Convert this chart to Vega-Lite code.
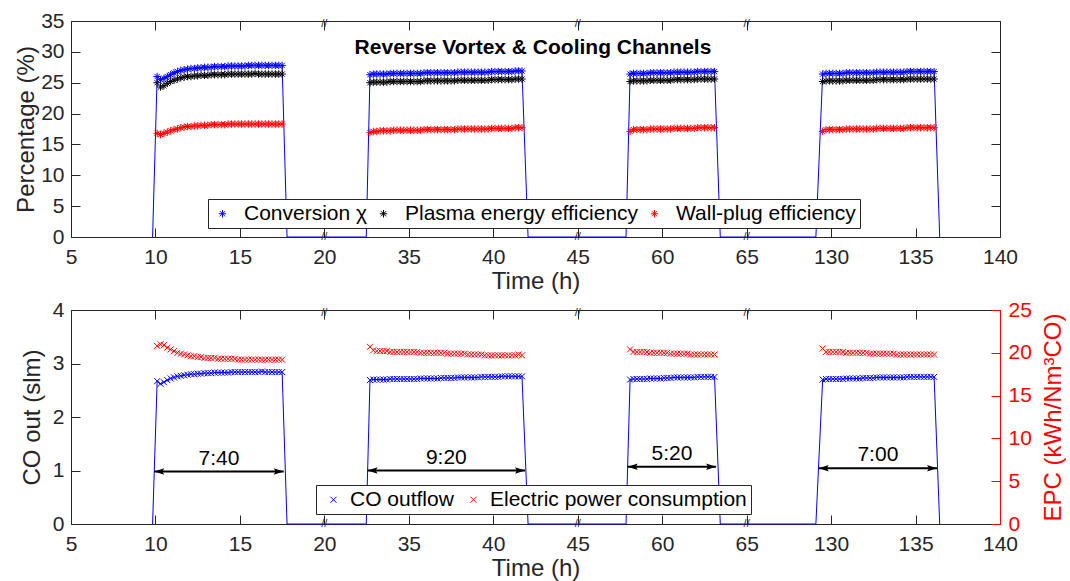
{
"$schema":"https://vega.github.io/schema/vega-lite/v6.json",
"background":"white",
"padding":{"left":14,"top":9,"right":0,"bottom":0},
"spacing":4,
"config":{
 "font":"Liberation Sans",
 "view":{"stroke":"#262626","strokeWidth":1},
 "axis":{"grid":false,"domain":false,"tickColor":"#262626","tickSize":-9,"tickWidth":1,"labelColor":"#262626","labelFontSize":21,"titleFontSize":24,"titleColor":"#262626","titleFontWeight":"normal","labelFont":"Liberation Sans","titleFont":"Liberation Sans","labelFlush":false,"labelOverlap":false}
},
"resolve":{"scale":{"color":"independent"},"legend":{"color":"independent"}},
"datasets":{
"d":[
{"t":9.83,"c":0,"co":0},{"t":17.79,"c":0,"co":0},{"t":32.48,"c":0,"co":0},{"t":42.06,"c":0,"co":0},{"t":57.86,"c":0,"co":0},{"t":63.44,"c":0,"co":0},{"t":129.1,"c":0,"co":0},{"t":136.43,"c":0,"co":0},
{"t":10.1,"c":26.0,"p":25.0,"w":16.8,"co":2.67,"e":20.8},
{"t":10.3,"c":25.5,"p":24.3,"w":16.6,"co":2.62,"e":21.0},
{"t":10.5,"c":25.7,"p":24.5,"w":16.8,"co":2.65,"e":20.9},
{"t":10.7,"c":26.0,"p":24.9,"w":17.0,"co":2.69,"e":20.6},
{"t":10.9,"c":26.3,"p":25.2,"w":17.2,"co":2.72,"e":20.4},
{"t":11.1,"c":26.6,"p":25.4,"w":17.4,"co":2.74,"e":20.2},
{"t":11.3,"c":26.8,"p":25.6,"w":17.5,"co":2.76,"e":20.0},
{"t":11.5,"c":27.0,"p":25.8,"w":17.7,"co":2.77,"e":19.9},
{"t":11.7,"c":27.1,"p":25.9,"w":17.8,"co":2.78,"e":19.8},
{"t":11.9,"c":27.2,"p":26.0,"w":17.9,"co":2.79,"e":19.7},
{"t":12.1,"c":27.3,"p":26.0,"w":17.9,"co":2.80,"e":19.6},
{"t":12.3,"c":27.3,"p":26.1,"w":18.0,"co":2.80,"e":19.6},
{"t":12.5,"c":27.4,"p":26.1,"w":18.0,"co":2.81,"e":19.5},
{"t":12.7,"c":27.4,"p":26.2,"w":18.1,"co":2.81,"e":19.5},
{"t":12.9,"c":27.5,"p":26.2,"w":18.1,"co":2.82,"e":19.4},
{"t":13.1,"c":27.5,"p":26.2,"w":18.1,"co":2.82,"e":19.4},
{"t":13.3,"c":27.5,"p":26.3,"w":18.2,"co":2.82,"e":19.4},
{"t":13.5,"c":27.6,"p":26.3,"w":18.2,"co":2.83,"e":19.4},
{"t":13.7,"c":27.6,"p":26.3,"w":18.2,"co":2.83,"e":19.3},
{"t":13.9,"c":27.6,"p":26.3,"w":18.2,"co":2.83,"e":19.3},
{"t":14.1,"c":27.6,"p":26.3,"w":18.2,"co":2.83,"e":19.3},
{"t":14.3,"c":27.7,"p":26.4,"w":18.3,"co":2.83,"e":19.3},
{"t":14.5,"c":27.7,"p":26.4,"w":18.3,"co":2.84,"e":19.3},
{"t":14.7,"c":27.7,"p":26.4,"w":18.3,"co":2.84,"e":19.3},
{"t":14.9,"c":27.7,"p":26.4,"w":18.3,"co":2.84,"e":19.2},
{"t":15.1,"c":27.7,"p":26.4,"w":18.3,"co":2.84,"e":19.2},
{"t":15.3,"c":27.7,"p":26.4,"w":18.3,"co":2.84,"e":19.2},
{"t":15.5,"c":27.8,"p":26.4,"w":18.3,"co":2.84,"e":19.2},
{"t":15.7,"c":27.8,"p":26.4,"w":18.3,"co":2.84,"e":19.2},
{"t":15.9,"c":27.8,"p":26.5,"w":18.3,"co":2.84,"e":19.2},
{"t":16.1,"c":27.8,"p":26.4,"w":18.3,"co":2.84,"e":19.2},
{"t":16.3,"c":27.8,"p":26.4,"w":18.3,"co":2.85,"e":19.2},
{"t":16.5,"c":27.8,"p":26.4,"w":18.3,"co":2.84,"e":19.2},
{"t":16.7,"c":27.8,"p":26.4,"w":18.3,"co":2.84,"e":19.2},
{"t":16.9,"c":27.8,"p":26.4,"w":18.3,"co":2.84,"e":19.2},
{"t":17.1,"c":27.8,"p":26.4,"w":18.3,"co":2.84,"e":19.2},
{"t":17.3,"c":27.8,"p":26.4,"w":18.3,"co":2.84,"e":19.2},
{"t":17.5,"c":27.8,"p":26.4,"w":18.3,"co":2.84,"e":19.2},
{"t":32.7,"c":26.3,"p":25.0,"w":16.9,"co":2.69,"e":20.7},
{"t":32.9,"c":26.4,"p":25.1,"w":17.1,"co":2.70,"e":20.3},
{"t":33.1,"c":26.4,"p":25.1,"w":17.1,"co":2.70,"e":20.2},
{"t":33.3,"c":26.4,"p":25.1,"w":17.2,"co":2.70,"e":20.2},
{"t":33.5,"c":26.4,"p":25.1,"w":17.2,"co":2.70,"e":20.2},
{"t":33.7,"c":26.4,"p":25.1,"w":17.2,"co":2.70,"e":20.2},
{"t":33.9,"c":26.5,"p":25.2,"w":17.2,"co":2.71,"e":20.1},
{"t":34.1,"c":26.5,"p":25.2,"w":17.3,"co":2.71,"e":20.1},
{"t":34.3,"c":26.5,"p":25.2,"w":17.3,"co":2.71,"e":20.1},
{"t":34.5,"c":26.5,"p":25.2,"w":17.3,"co":2.71,"e":20.1},
{"t":34.7,"c":26.5,"p":25.2,"w":17.3,"co":2.71,"e":20.1},
{"t":34.9,"c":26.5,"p":25.2,"w":17.3,"co":2.71,"e":20.1},
{"t":35.1,"c":26.5,"p":25.2,"w":17.3,"co":2.71,"e":20.1},
{"t":35.3,"c":26.5,"p":25.2,"w":17.3,"co":2.71,"e":20.1},
{"t":35.5,"c":26.5,"p":25.2,"w":17.3,"co":2.71,"e":20.1},
{"t":35.7,"c":26.5,"p":25.2,"w":17.3,"co":2.72,"e":20.0},
{"t":35.9,"c":26.6,"p":25.3,"w":17.4,"co":2.72,"e":20.0},
{"t":36.1,"c":26.6,"p":25.3,"w":17.4,"co":2.72,"e":20.0},
{"t":36.3,"c":26.6,"p":25.3,"w":17.4,"co":2.72,"e":20.0},
{"t":36.5,"c":26.6,"p":25.3,"w":17.4,"co":2.72,"e":20.0},
{"t":36.7,"c":26.6,"p":25.3,"w":17.4,"co":2.72,"e":20.0},
{"t":36.9,"c":26.6,"p":25.3,"w":17.4,"co":2.73,"e":20.0},
{"t":37.1,"c":26.6,"p":25.3,"w":17.4,"co":2.73,"e":20.0},
{"t":37.3,"c":26.6,"p":25.3,"w":17.4,"co":2.73,"e":19.9},
{"t":37.5,"c":26.6,"p":25.3,"w":17.4,"co":2.73,"e":19.9},
{"t":37.7,"c":26.6,"p":25.3,"w":17.4,"co":2.73,"e":19.9},
{"t":37.9,"c":26.7,"p":25.4,"w":17.5,"co":2.74,"e":19.9},
{"t":38.1,"c":26.7,"p":25.4,"w":17.5,"co":2.74,"e":19.9},
{"t":38.3,"c":26.7,"p":25.4,"w":17.5,"co":2.74,"e":19.9},
{"t":38.5,"c":26.7,"p":25.4,"w":17.5,"co":2.74,"e":19.8},
{"t":38.7,"c":26.7,"p":25.4,"w":17.5,"co":2.74,"e":19.8},
{"t":38.9,"c":26.7,"p":25.4,"w":17.5,"co":2.74,"e":19.8},
{"t":39.1,"c":26.7,"p":25.4,"w":17.5,"co":2.74,"e":19.8},
{"t":39.3,"c":26.7,"p":25.4,"w":17.5,"co":2.75,"e":19.8},
{"t":39.5,"c":26.7,"p":25.4,"w":17.5,"co":2.75,"e":19.7},
{"t":39.7,"c":26.7,"p":25.4,"w":17.5,"co":2.75,"e":19.7},
{"t":39.9,"c":26.8,"p":25.5,"w":17.6,"co":2.75,"e":19.7},
{"t":40.1,"c":26.8,"p":25.5,"w":17.6,"co":2.75,"e":19.7},
{"t":40.3,"c":26.8,"p":25.5,"w":17.6,"co":2.75,"e":19.7},
{"t":40.5,"c":26.8,"p":25.5,"w":17.6,"co":2.76,"e":19.7},
{"t":40.7,"c":26.8,"p":25.5,"w":17.6,"co":2.76,"e":19.7},
{"t":40.9,"c":26.8,"p":25.5,"w":17.6,"co":2.76,"e":19.7},
{"t":41.1,"c":26.8,"p":25.5,"w":17.6,"co":2.76,"e":19.7},
{"t":41.3,"c":26.9,"p":25.6,"w":17.7,"co":2.76,"e":19.7},
{"t":41.5,"c":26.9,"p":25.6,"w":17.7,"co":2.76,"e":19.8},
{"t":41.7,"c":26.9,"p":25.6,"w":17.7,"co":2.76,"e":19.7},
{"t":58.1,"c":26.4,"p":25.2,"w":17.1,"co":2.70,"e":20.4},
{"t":58.3,"c":26.5,"p":25.3,"w":17.4,"co":2.71,"e":20.1},
{"t":58.5,"c":26.5,"p":25.3,"w":17.4,"co":2.71,"e":20.1},
{"t":58.7,"c":26.5,"p":25.3,"w":17.4,"co":2.71,"e":20.1},
{"t":58.9,"c":26.5,"p":25.3,"w":17.4,"co":2.71,"e":20.1},
{"t":59.1,"c":26.5,"p":25.3,"w":17.4,"co":2.71,"e":20.1},
{"t":59.3,"c":26.6,"p":25.4,"w":17.5,"co":2.72,"e":20.0},
{"t":59.5,"c":26.6,"p":25.4,"w":17.5,"co":2.72,"e":20.0},
{"t":59.7,"c":26.6,"p":25.4,"w":17.5,"co":2.72,"e":20.0},
{"t":59.9,"c":26.6,"p":25.4,"w":17.5,"co":2.72,"e":20.0},
{"t":60.1,"c":26.6,"p":25.4,"w":17.5,"co":2.73,"e":20.0},
{"t":60.3,"c":26.6,"p":25.4,"w":17.5,"co":2.73,"e":20.0},
{"t":60.5,"c":26.6,"p":25.4,"w":17.5,"co":2.73,"e":19.9},
{"t":60.7,"c":26.7,"p":25.5,"w":17.6,"co":2.74,"e":19.9},
{"t":60.9,"c":26.7,"p":25.5,"w":17.6,"co":2.74,"e":19.9},
{"t":61.1,"c":26.7,"p":25.5,"w":17.6,"co":2.74,"e":19.9},
{"t":61.3,"c":26.7,"p":25.5,"w":17.6,"co":2.74,"e":19.9},
{"t":61.5,"c":26.7,"p":25.5,"w":17.6,"co":2.74,"e":19.9},
{"t":61.7,"c":26.7,"p":25.5,"w":17.6,"co":2.74,"e":19.8},
{"t":61.9,"c":26.7,"p":25.5,"w":17.6,"co":2.74,"e":19.8},
{"t":62.1,"c":26.8,"p":25.6,"w":17.7,"co":2.75,"e":19.8},
{"t":62.3,"c":26.8,"p":25.6,"w":17.7,"co":2.75,"e":19.8},
{"t":62.5,"c":26.8,"p":25.6,"w":17.7,"co":2.75,"e":19.8},
{"t":62.7,"c":26.8,"p":25.6,"w":17.7,"co":2.75,"e":19.8},
{"t":62.9,"c":26.8,"p":25.6,"w":17.7,"co":2.75,"e":19.8},
{"t":63.1,"c":26.8,"p":25.6,"w":17.7,"co":2.75,"e":19.8},
{"t":129.5,"c":26.4,"p":25.2,"w":17.1,"co":2.70,"e":20.5},
{"t":129.7,"c":26.5,"p":25.3,"w":17.4,"co":2.71,"e":20.1},
{"t":129.9,"c":26.5,"p":25.3,"w":17.4,"co":2.71,"e":20.1},
{"t":130.1,"c":26.5,"p":25.3,"w":17.4,"co":2.71,"e":20.1},
{"t":130.3,"c":26.5,"p":25.3,"w":17.4,"co":2.71,"e":20.1},
{"t":130.5,"c":26.5,"p":25.3,"w":17.4,"co":2.71,"e":20.1},
{"t":130.7,"c":26.5,"p":25.3,"w":17.4,"co":2.71,"e":20.1},
{"t":130.9,"c":26.6,"p":25.4,"w":17.5,"co":2.72,"e":20.0},
{"t":131.1,"c":26.6,"p":25.4,"w":17.5,"co":2.72,"e":20.0},
{"t":131.3,"c":26.6,"p":25.4,"w":17.5,"co":2.72,"e":20.0},
{"t":131.5,"c":26.6,"p":25.4,"w":17.5,"co":2.72,"e":20.0},
{"t":131.7,"c":26.6,"p":25.4,"w":17.5,"co":2.72,"e":20.0},
{"t":131.9,"c":26.6,"p":25.4,"w":17.5,"co":2.73,"e":20.0},
{"t":132.1,"c":26.6,"p":25.4,"w":17.5,"co":2.73,"e":20.0},
{"t":132.3,"c":26.6,"p":25.4,"w":17.5,"co":2.73,"e":19.9},
{"t":132.5,"c":26.6,"p":25.4,"w":17.5,"co":2.73,"e":19.9},
{"t":132.7,"c":26.7,"p":25.5,"w":17.6,"co":2.74,"e":19.9},
{"t":132.9,"c":26.7,"p":25.5,"w":17.6,"co":2.74,"e":19.9},
{"t":133.1,"c":26.7,"p":25.5,"w":17.6,"co":2.74,"e":19.9},
{"t":133.3,"c":26.7,"p":25.5,"w":17.6,"co":2.74,"e":19.9},
{"t":133.5,"c":26.7,"p":25.5,"w":17.6,"co":2.74,"e":19.9},
{"t":133.7,"c":26.7,"p":25.5,"w":17.6,"co":2.74,"e":19.9},
{"t":133.9,"c":26.7,"p":25.5,"w":17.6,"co":2.74,"e":19.8},
{"t":134.1,"c":26.7,"p":25.5,"w":17.6,"co":2.74,"e":19.8},
{"t":134.3,"c":26.7,"p":25.5,"w":17.6,"co":2.74,"e":19.8},
{"t":134.5,"c":26.8,"p":25.6,"w":17.7,"co":2.75,"e":19.8},
{"t":134.7,"c":26.8,"p":25.6,"w":17.7,"co":2.75,"e":19.8},
{"t":134.9,"c":26.8,"p":25.6,"w":17.7,"co":2.75,"e":19.8},
{"t":135.1,"c":26.8,"p":25.6,"w":17.7,"co":2.75,"e":19.8},
{"t":135.3,"c":26.8,"p":25.6,"w":17.7,"co":2.75,"e":19.8},
{"t":135.5,"c":26.8,"p":25.6,"w":17.7,"co":2.75,"e":19.8},
{"t":135.7,"c":26.8,"p":25.6,"w":17.7,"co":2.75,"e":19.8},
{"t":135.9,"c":26.8,"p":25.6,"w":17.7,"co":2.75,"e":19.8},
{"t":136.1,"c":26.8,"p":25.6,"w":17.7,"co":2.75,"e":19.8}
],
"arrows":[
{"t1":9.93,"t2":17.59,"ya":0.98,"lab":"7:40"},
{"t1":32.56,"t2":41.88,"ya":1.0,"lab":"9:20"},
{"t1":57.96,"t2":63.19,"ya":1.07,"lab":"5:20"},
{"t1":129.27,"t2":136.27,"ya":1.04,"lab":"7:00"}
],
"breaks":[{"t":20},{"t":45},{"t":65}]
},
"vconcat":[
{
 "width":929,"height":216,
 "resolve":{"axis":{"x":"independent","y":"independent"}},
 "layer":[
  {"data":{"name":"d"},"transform":[{"calculate":"datum.t <= 25 ? datum.t : datum.t <= 50 ? datum.t - 10 : datum.t <= 100 ? datum.t - 20 : datum.t - 80","as":"u"}],
   "mark":{"type":"line","color":"#0000ff","strokeWidth":1},
   "encoding":{
    "x":{"field":"u","type":"quantitative","scale":{"domain":[5,60],"nice":false,"zero":false},
         "axis":{"orient":"bottom","values":[5,10,15,20,25,30,35,40,45,50,55,60],"labelExpr":"['5','10','15','20','35','40','45','60','65','130','135','140'][round((datum.value-5)/5)]","labelPadding":18,"title":"Time (h)","titlePadding":2}},
    "y":{"field":"c","type":"quantitative","scale":{"domain":[0,35],"nice":false},
         "axis":{"orient":"left","values":[0,5,10,15,20,25,30,35],"labelPadding":16,"title":"Percentage (%)","titlePadding":2}}}},
  {"data":{"name":"d"},"transform":[{"filter":"isValid(datum.p)"},{"calculate":"datum.t <= 25 ? datum.t : datum.t <= 50 ? datum.t - 10 : datum.t <= 100 ? datum.t - 20 : datum.t - 80","as":"u"}],
   "mark":{"type":"point","shape":"M-1,0L1,0M0,-1L0,1M-0.7,-0.7L0.7,0.7M-0.7,0.7L0.7,-0.7","filled":false,"size":56,"strokeWidth":1,"opacity":1},
   "encoding":{
    "x":{"field":"u","type":"quantitative","axis":{"orient":"top","values":[5,10,15,20,25,30,35,40,45,50,55,60],"labels":false,"title":null}},
    "y":{"field":"w","type":"quantitative","axis":{"orient":"right","values":[0,5,10,15,20,25,30,35],"labels":false,"title":null}},
    "color":{"datum":"Wall-plug efficiency","type":"nominal",
      "scale":{"domain":["Conversion χ","Plasma energy efficiency","Wall-plug efficiency"],"range":["#0000ff","#000000","#ff0000"]},
      "legend":{"orient":"none","legendX":137,"legendY":178,"direction":"horizontal","title":null,"strokeColor":"#262626","fillColor":"#ffffff","padding":4,"labelFontSize":21,"labelFont":"Liberation Sans","labelColor":"#000000","labelLimit":400,"symbolType":"M-1,0L1,0M0,-1L0,1M-0.7,-0.7L0.7,0.7M-0.7,0.7L0.7,-0.7","symbolSize":56,"symbolStrokeWidth":1,"symbolOffset":0,"labelOffset":11,"columnPadding":5}}}},
  {"data":{"name":"d"},"transform":[{"filter":"isValid(datum.p)"},{"calculate":"datum.t <= 25 ? datum.t : datum.t <= 50 ? datum.t - 10 : datum.t <= 100 ? datum.t - 20 : datum.t - 80","as":"u"}],
   "mark":{"type":"point","shape":"M-1,0L1,0M0,-1L0,1M-0.7,-0.7L0.7,0.7M-0.7,0.7L0.7,-0.7","filled":false,"size":56,"strokeWidth":1,"opacity":1},
   "encoding":{
    "x":{"field":"u","type":"quantitative","axis":null},
    "y":{"field":"p","type":"quantitative","axis":null},
    "color":{"datum":"Plasma energy efficiency","type":"nominal"}}},
  {"data":{"name":"d"},"transform":[{"filter":"isValid(datum.p)"},{"calculate":"datum.t <= 25 ? datum.t : datum.t <= 50 ? datum.t - 10 : datum.t <= 100 ? datum.t - 20 : datum.t - 80","as":"u"}],
   "mark":{"type":"point","shape":"M-1,0L1,0M0,-1L0,1M-0.7,-0.7L0.7,0.7M-0.7,0.7L0.7,-0.7","filled":false,"size":56,"strokeWidth":1,"opacity":1},
   "encoding":{
    "x":{"field":"u","type":"quantitative","axis":null},
    "y":{"field":"c","type":"quantitative","axis":null},
    "color":{"datum":"Conversion χ","type":"nominal"}}},
  {"data":{"name":"breaks"},"transform":[{"calculate":"datum.t <= 25 ? datum.t : datum.t <= 50 ? datum.t - 10 : datum.t <= 100 ? datum.t - 20 : datum.t - 80","as":"u"}],
   "mark":{"type":"text","text":"//","fontSize":11,"color":"#262626","baseline":"middle","align":"center"},
   "encoding":{"x":{"field":"u","type":"quantitative","axis":null},"y":{"datum":0,"type":"quantitative","axis":null}}},
  {"data":{"name":"breaks"},"transform":[{"calculate":"datum.t <= 25 ? datum.t : datum.t <= 50 ? datum.t - 10 : datum.t <= 100 ? datum.t - 20 : datum.t - 80","as":"u"}],
   "mark":{"type":"text","text":"//","fontSize":11,"color":"#262626","baseline":"middle","align":"center","dy":3},
   "encoding":{"x":{"field":"u","type":"quantitative","axis":null},"y":{"datum":35,"type":"quantitative","axis":null}}},
  {"data":{"values":[{}]},
   "mark":{"type":"text","text":"Reverse Vortex & Cooling Channels","fontSize":21,"fontWeight":"bold","color":"#000000","baseline":"middle","align":"center"},
   "encoding":{"x":{"datum":32.35,"type":"quantitative","axis":null},"y":{"datum":30.7,"type":"quantitative","axis":null}}}
 ]
},
{
 "width":929,"height":214,
 "resolve":{"scale":{"y":"independent"},"axis":{"x":"independent","y":"independent"}},
 "layer":[
  {"data":{"name":"d"},"transform":[{"calculate":"datum.t <= 25 ? datum.t : datum.t <= 50 ? datum.t - 10 : datum.t <= 100 ? datum.t - 20 : datum.t - 80","as":"u"}],
   "mark":{"type":"line","color":"#0000ff","strokeWidth":1},
   "encoding":{
    "x":{"field":"u","type":"quantitative","scale":{"domain":[5,60],"nice":false,"zero":false},
         "axis":{"orient":"bottom","values":[5,10,15,20,25,30,35,40,45,50,55,60],"labelExpr":"['5','10','15','20','35','40','45','60','65','130','135','140'][round((datum.value-5)/5)]","labelPadding":18,"title":"Time (h)","titlePadding":2}},
    "y":{"field":"co","type":"quantitative","scale":{"domain":[0,4],"nice":false},
         "axis":{"orient":"left","values":[0,1,2,3,4],"labelPadding":16,"title":"CO out (slm)","titlePadding":8}}}},
  {"data":{"name":"d"},"transform":[{"filter":"isValid(datum.p)"},{"calculate":"datum.t <= 25 ? datum.t : datum.t <= 50 ? datum.t - 10 : datum.t <= 100 ? datum.t - 20 : datum.t - 80","as":"u"}],
   "mark":{"type":"point","shape":"M-1,-1L1,1M-1,1L1,-1","filled":false,"size":36,"strokeWidth":1,"opacity":1},
   "encoding":{
    "x":{"field":"u","type":"quantitative","axis":{"orient":"top","values":[5,10,15,20,25,30,35,40,45,50,55,60],"labels":false,"title":null}},
    "y":{"field":"e","type":"quantitative","scale":{"domain":[0,25],"nice":false},
         "axis":{"orient":"right","values":[0,5,10,15,20,25],"labelPadding":17,"labelColor":"#ff0000","tickColor":"#ff0000","domain":true,"domainColor":"#ff0000","title":"EPC (kWh/Nm³CO)","titleColor":"#ff0000","titleAngle":270,"titleBaseline":"top","titlePadding":10}},
    "color":{"datum":"Electric power consumption","type":"nominal",
      "scale":{"domain":["CO outflow","Electric power consumption"],"range":["#0000ff","#ff0000"]},
      "legend":{"orient":"none","legendX":245,"legendY":175,"direction":"horizontal","title":null,"strokeColor":"#262626","fillColor":"#ffffff","padding":4,"labelFontSize":21,"labelFont":"Liberation Sans","labelColor":"#000000","labelLimit":400,"symbolType":"M-1,-1L1,1M-1,1L1,-1","symbolSize":36,"symbolStrokeWidth":1,"symbolOffset":3,"labelOffset":6,"columnPadding":6}}}},
  {"data":{"name":"d"},"transform":[{"filter":"isValid(datum.p)"},{"calculate":"datum.t <= 25 ? datum.t : datum.t <= 50 ? datum.t - 10 : datum.t <= 100 ? datum.t - 20 : datum.t - 80","as":"u"}],
   "mark":{"type":"point","shape":"M-1,-1L1,1M-1,1L1,-1","filled":false,"size":36,"strokeWidth":1,"opacity":1},
   "encoding":{
    "x":{"field":"u","type":"quantitative","axis":null},
    "y":{"field":"co","type":"quantitative","scale":{"domain":[0,4],"nice":false},"axis":null},
    "color":{"datum":"CO outflow","type":"nominal"}}},
  {"data":{"name":"breaks"},"transform":[{"calculate":"datum.t <= 25 ? datum.t : datum.t <= 50 ? datum.t - 10 : datum.t <= 100 ? datum.t - 20 : datum.t - 80","as":"u"}],
   "mark":{"type":"text","text":"//","fontSize":11,"color":"#262626","baseline":"middle","align":"center"},
   "encoding":{"x":{"field":"u","type":"quantitative","axis":null},"y":{"datum":0,"type":"quantitative","scale":{"domain":[0,4],"nice":false},"axis":null}}},
  {"data":{"name":"breaks"},"transform":[{"calculate":"datum.t <= 25 ? datum.t : datum.t <= 50 ? datum.t - 10 : datum.t <= 100 ? datum.t - 20 : datum.t - 80","as":"u"}],
   "mark":{"type":"text","text":"//","fontSize":11,"color":"#262626","baseline":"middle","align":"center","dy":3},
   "encoding":{"x":{"field":"u","type":"quantitative","axis":null},"y":{"datum":4,"type":"quantitative","scale":{"domain":[0,4],"nice":false},"axis":null}}},
  {"data":{"name":"arrows"},"transform":[
     {"calculate":"datum.t1 <= 25 ? datum.t1 : datum.t1 <= 50 ? datum.t1 - 10 : datum.t1 <= 100 ? datum.t1 - 20 : datum.t1 - 80","as":"u1"},
     {"calculate":"datum.t2 <= 25 ? datum.t2 : datum.t2 <= 50 ? datum.t2 - 10 : datum.t2 <= 100 ? datum.t2 - 20 : datum.t2 - 80","as":"u2"}],
   "mark":{"type":"rule","color":"#000000","strokeWidth":2},
   "encoding":{"x":{"field":"u1","type":"quantitative","axis":null},"x2":{"field":"u2"},"y":{"field":"ya","type":"quantitative","scale":{"domain":[0,4],"nice":false},"axis":null}}},
  {"data":{"name":"arrows"},"transform":[
     {"calculate":"datum.t1 <= 25 ? datum.t1 : datum.t1 <= 50 ? datum.t1 - 10 : datum.t1 <= 100 ? datum.t1 - 20 : datum.t1 - 80","as":"u1"}],
   "mark":{"type":"point","shape":"M0,0L2,-0.65L1.6,0L2,0.65Z","filled":true,"size":100,"color":"#000000","opacity":1,"strokeWidth":0},
   "encoding":{"x":{"field":"u1","type":"quantitative","axis":null},"y":{"field":"ya","type":"quantitative","scale":{"domain":[0,4],"nice":false},"axis":null}}},
  {"data":{"name":"arrows"},"transform":[
     {"calculate":"datum.t2 <= 25 ? datum.t2 : datum.t2 <= 50 ? datum.t2 - 10 : datum.t2 <= 100 ? datum.t2 - 20 : datum.t2 - 80","as":"u2"}],
   "mark":{"type":"point","shape":"M0,0L-2,-0.65L-1.6,0L-2,0.65Z","filled":true,"size":100,"color":"#000000","opacity":1,"strokeWidth":0},
   "encoding":{"x":{"field":"u2","type":"quantitative","axis":null},"y":{"field":"ya","type":"quantitative","scale":{"domain":[0,4],"nice":false},"axis":null}}},
  {"data":{"name":"arrows"},"transform":[
     {"calculate":"datum.t1 <= 25 ? datum.t1 : datum.t1 <= 50 ? datum.t1 - 10 : datum.t1 <= 100 ? datum.t1 - 20 : datum.t1 - 80","as":"u1"},
     {"calculate":"datum.t2 <= 25 ? datum.t2 : datum.t2 <= 50 ? datum.t2 - 10 : datum.t2 <= 100 ? datum.t2 - 20 : datum.t2 - 80","as":"u2"},
     {"calculate":"(datum.u1 + datum.u2) / 2","as":"um"}],
   "mark":{"type":"text","fontSize":21,"color":"#000000","baseline":"alphabetic","align":"center","dy":-7},
   "encoding":{"x":{"field":"um","type":"quantitative","axis":null},"y":{"field":"ya","type":"quantitative","scale":{"domain":[0,4],"nice":false},"axis":null},"text":{"field":"lab"}}}
 ]
}
]
}
